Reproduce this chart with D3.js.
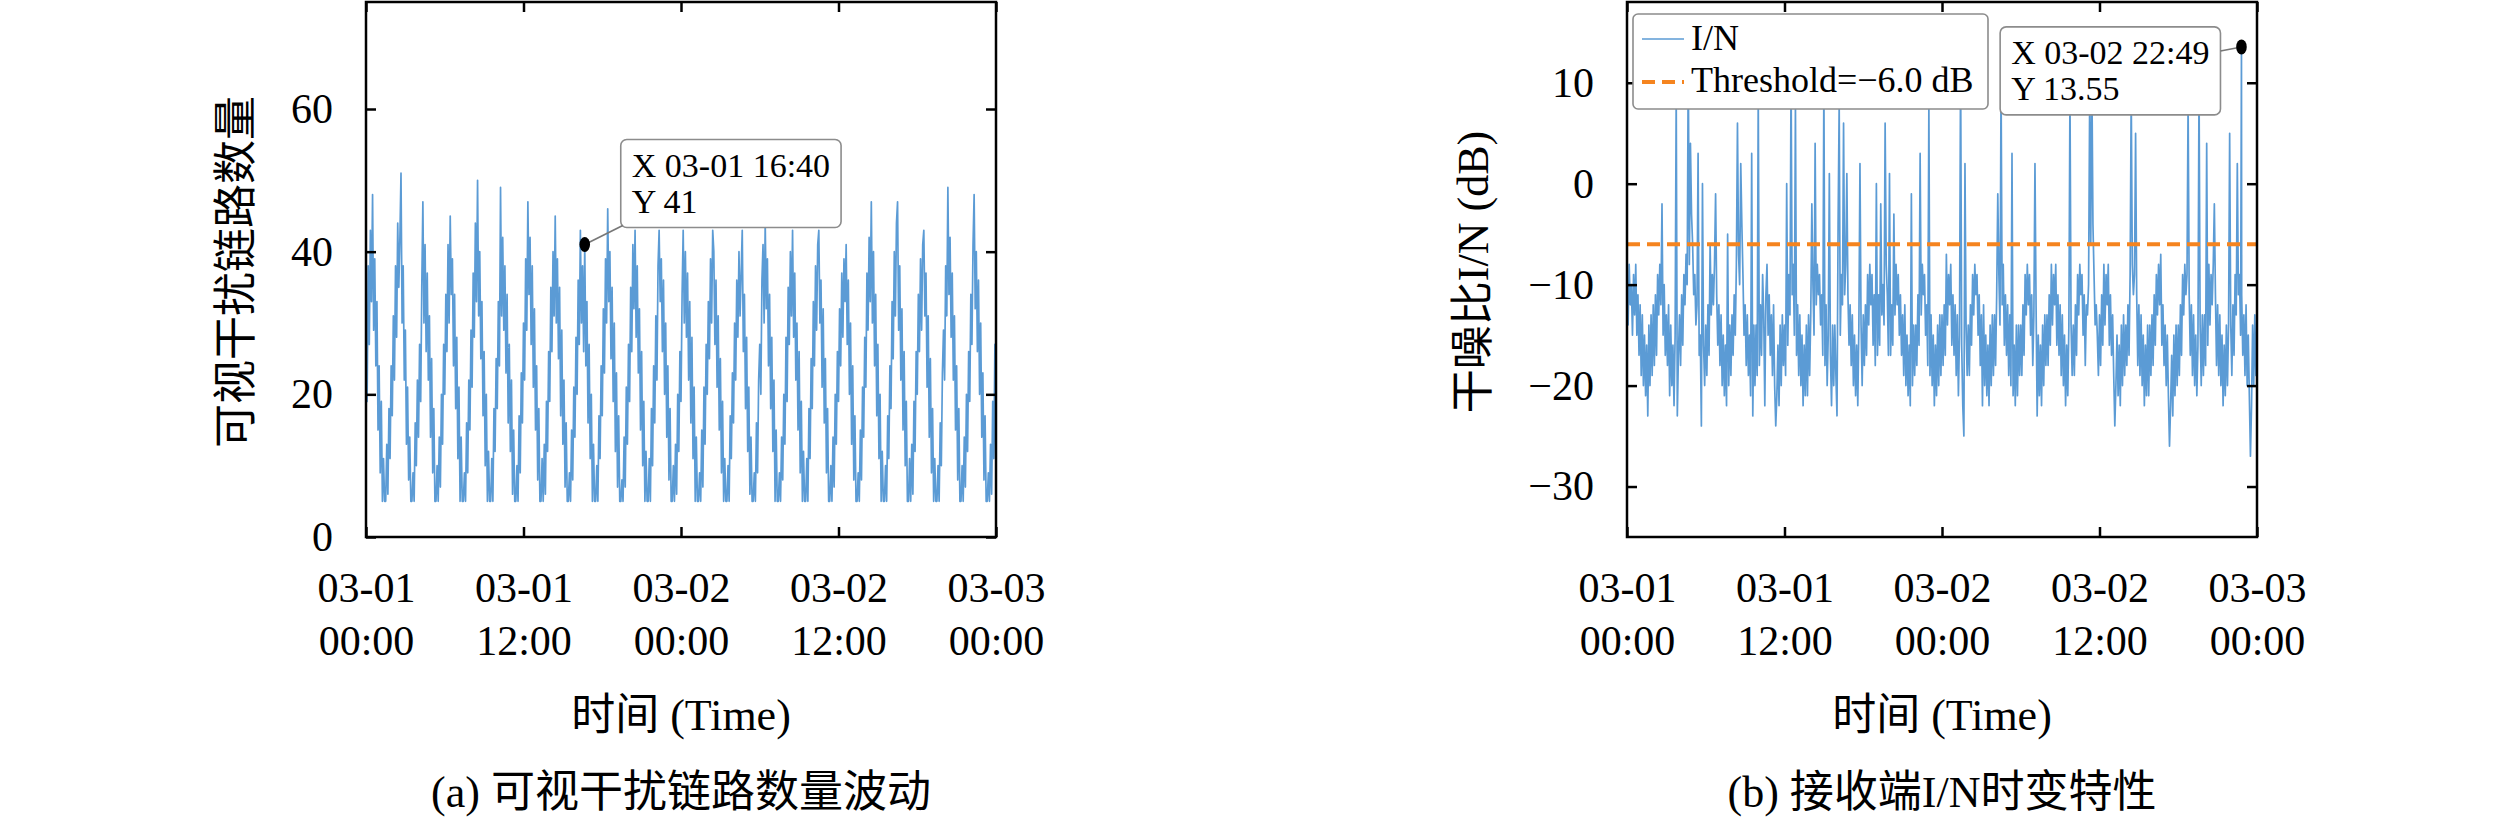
<!DOCTYPE html>
<html>
<head>
<meta charset="utf-8">
<script src="https://cdn.jsdelivr.net/npm/d3@7"></script>
<style>
body { margin: 0; background: #fff; }
</style>
</head>
<body>
<svg width="2520" height="817"></svg>
<script>
// sampling: one value every 5 minutes from 03-01 00:00 to 03-03 00:00
const startTime = '2024-03-01 00:00';
const endTime = '2024-03-03 00:00';
const stepMinutes = 5;
const xTickTimes = ['2024-03-01 00:00', '2024-03-01 12:00', '2024-03-02 00:00', '2024-03-02 12:00', '2024-03-03 00:00'];

// (a) visible interfering links, one row = 2 hours
const linkCounts = [
  30, 19, 38, 27, 43, 33, 48, 29, 39, 24, 33, 15, 24, 9, 19, 5, 11, 5, 5, 13, 6, 18, 11, 24,
  17, 31, 22, 38, 28, 44, 35, 42, 51, 30, 38, 22, 29, 13, 21, 8, 14, 5, 5, 9, 5, 16, 10, 22,
  14, 27, 19, 35, 47, 30, 41, 26, 37, 22, 31, 14, 25, 9, 18, 5, 5, 10, 5, 14, 7, 20, 13, 27,
  20, 34, 26, 41, 30, 45, 34, 39, 24, 34, 18, 28, 11, 21, 5, 14, 5, 5, 9, 5, 16, 9, 22, 15,
  29, 21, 37, 28, 44, 33, 50, 31, 40, 25, 33, 17, 26, 10, 20, 5, 12, 5, 5, 11, 5, 18, 12, 25,
  18, 33, 24, 49, 31, 42, 29, 38, 23, 34, 16, 27, 12, 22, 6, 15, 5, 5, 10, 5, 17, 9, 23, 16,
  30, 22, 39, 29, 47, 34, 42, 27, 38, 21, 32, 15, 24, 8, 18, 5, 5, 11, 5, 13, 6, 19, 12, 26,
  19, 35, 26, 40, 31, 45, 30, 39, 25, 35, 17, 29, 13, 22, 7, 16, 5, 5, 9, 5, 15, 8, 21, 14,
  28, 20, 36, 27, 43, 30, 38, 26, 41, 24, 33, 16, 27, 11, 20, 5, 13, 5, 5, 10, 5, 17, 11, 24,
  17, 32, 23, 39, 30, 46, 33, 40, 25, 35, 19, 30, 12, 23, 7, 17, 5, 5, 8, 5, 14, 7, 21, 13,
  27, 19, 35, 26, 41, 32, 43, 28, 38, 23, 32, 15, 26, 10, 19, 5, 12, 5, 5, 11, 5, 18, 10, 24,
  16, 31, 22, 38, 43, 33, 39, 26, 36, 20, 30, 14, 24, 8, 18, 5, 5, 10, 5, 13, 6, 20, 12, 26,
  19, 34, 43, 30, 40, 28, 37, 22, 33, 16, 28, 11, 21, 5, 14, 5, 5, 9, 5, 15, 7, 21, 13, 27,
  20, 33, 25, 39, 30, 43, 40, 27, 36, 21, 31, 15, 25, 9, 19, 5, 11, 5, 5, 10, 5, 17, 11, 23,
  16, 30, 22, 36, 28, 40, 31, 37, 43, 26, 34, 18, 28, 12, 21, 6, 14, 5, 5, 9, 5, 16, 9, 22,
  27, 20, 36, 41, 30, 44, 32, 39, 24, 34, 18, 28, 12, 22, 5, 15, 5, 5, 9, 5, 14, 8, 20, 13,
  28, 19, 35, 27, 40, 31, 43, 28, 37, 22, 30, 15, 26, 9, 19, 5, 12, 5, 5, 11, 5, 18, 11, 25,
  18, 33, 24, 38, 29, 41, 43, 30, 36, 21, 32, 16, 25, 9, 18, 5, 5, 10, 5, 14, 7, 20, 13, 26,
  19, 32, 24, 37, 28, 39, 33, 41, 27, 36, 20, 30, 13, 24, 8, 17, 5, 5, 9, 5, 15, 8, 21, 14,
  28, 21, 37, 29, 42, 33, 47, 30, 40, 24, 34, 17, 27, 11, 20, 5, 12, 5, 5, 10, 5, 17, 11, 24,
  18, 33, 25, 40, 31, 44, 47, 29, 38, 22, 32, 15, 26, 10, 19, 5, 5, 11, 5, 13, 6, 19, 12, 26,
  20, 34, 26, 39, 29, 41, 43, 31, 37, 21, 31, 14, 25, 9, 18, 5, 11, 5, 5, 10, 5, 16, 10, 23,
  29, 22, 38, 31, 49, 34, 42, 28, 37, 22, 31, 15, 24, 8, 18, 5, 5, 10, 5, 14, 7, 20, 12, 26,
  19, 34, 27, 41, 48, 32, 40, 26, 36, 20, 30, 14, 23, 8, 17, 5, 5, 9, 5, 13, 6, 19, 11, 27,
  8
];

// (b) received I/N in dB, one row = 2 hours
const inRatio = [
  -9, -14, -8, -12, -10, -15, -9, -13, -8, -15, -11, -17, -12, -19, -13, -20, -15, -21, -16, -23, -14, -20, -13, -19,
  -12, -18, -11, -17, -9, -13, -8, -12, -2, -15, -10, -17, -13, -18, -12, -21, -14, -20, -16, -22, -15, 9, -23, -17,
  -13, -18, -11, -16, -9, -12, -7, -10, 12, -8, 4, -3, -6, -11, -9, -14, -12, 3, -17, -15, -24, 0, -16, -20,
  -14, -19, -12, -17, -6, -13, -9, -12, -8, -1, -11, -16, -12, -18, -13, -20, -15, -21, -16, -22, -5, -20, -14, -19,
  -13, -17, -11, -15, -8, 6, -7, -10, 2, -4, -9, -15, -12, -18, -13, -19, -15, -21, 3, -23, -14, -20, -14, -19,
  9, -18, -12, -17, -9, -13, -22, -11, -8, -15, -11, -17, -13, -19, -12, -20, -24, -21, -16, -22, -14, -20, -13, -18,
  -14, -19, 0, -16, -9, -13, 11, -11, -8, -15, 8, -17, -12, -19, -13, -20, -15, -22, -16, -21, -14, -21, -13, -19,
  -13, -2, -10, -15, 4, -12, -8, -11, -9, -14, -11, -17, 10, -18, -12, -20, -15, 1, -17, -22, -14, -20, -14, -19,
  -23, -4, 8, -15, -9, -12, 6, -11, -8, 1, -11, -16, -12, -18, -13, -20, -15, -21, -16, -22, -14, 2, -14, -20,
  -13, -18, -12, -17, -9, -14, -8, -12, -9, -16, -11, -18, 0, -17, -11, -16, -2, -13, -10, -14, 6, -8, -11, -17,
  1, -17, -12, -16, -3, -13, -8, -12, -9, -15, -11, -17, -13, -19, -12, -20, -15, -21, -16, -22, -1, -20, -14, -19,
  -14, -18, -11, -16, 3, -13, -8, -11, -9, -15, -12, -18, 8, -19, -13, -20, -15, -22, -16, -21, -14, -20, -13, -19,
  -13, -18, -12, -17, -7, -14, -9, -12, -8, -16, -11, -17, -12, -19, -13, -21, -15, 12, -16, -22, -25, 2, -14, -19,
  -14, -19, -12, -16, -9, -13, -8, -11, -9, -15, -11, -18, -13, -22, -12, -20, -15, -21, -16, -22, -14, -20, -13, -19,
  -13, -18, -11, -1, -9, -14, 10, -12, -8, -16, -11, -17, -12, -19, -13, -20, 3, -21, -16, -22, -14, -21, -14, -19,
  -14, -19, -12, -17, -9, -13, -8, -12, -9, -15, -11, -18, -13, 2, -12, -23, -15, -21, -16, -22, -14, -20, -13, -18,
  -13, -18, -11, -16, -8, -14, -9, -12, -8, -16, -11, -17, -12, -19, -13, -20, -15, -22, -16, -21, -14, 9, -14, -19,
  -14, -19, -12, -17, -9, -13, -8, -11, -9, -15, -11, -18, -12, -13, -10, 8, -6, 11, -4, -9, -14, -12, -15, -19,
  -13, -18, -11, -16, -8, -14, -9, -12, -8, -16, -11, -17, -13, -19, -24, -20, -15, -21, -16, -22, -14, -20, -13, -19,
  -14, -18, -12, -17, -9, 9, -8, -11, -9, 5, -11, -18, -12, -19, -13, -20, -15, -22, -16, -21, -14, -21, -14, -19,
  -13, -18, -11, -16, -9, -13, -8, -12, -7, -16, -12, -18, -14, -20, -15, -21, -26, -22, -17, -23, -15, -21, -14, -20,
  -14, -19, -12, -17, -9, -13, -8, -11, -9, 8, -11, -17, -12, -19, -13, -20, -15, -21, -16, 10, -14, -20, -13, -19,
  -13, -18, 4, -16, -8, -14, -9, -12, -8, -2, -11, -18, -12, -19, -13, -20, -15, -22, -16, -21, -14, -20, -14, 5,
  -14, -19, -12, -17, -9, -13, 2, -11, -9, -15, -11, -17, -13, -19, -12, -20, -15, -21, -27, -22, -14, -20, -13, -19,
  -15
];

const thresholdDb = -6.0;
const tipA = { time: '2024-03-01 16:40', value: 41 };
const tipB = { time: '2024-03-02 22:49', value: 13.55 };
const yTicksA = [0, 20, 40, 60];
const yTicksB = [-30, -20, -10, 0, 10];
const yTitleA = '可视干扰链路数量';
const yTitleB = '干噪比I/N (dB)';
const xTitle = '时间 (Time)';
const captionA = '(a) 可视干扰链路数量波动';
const captionB = '(b) 接收端I/N时变特性';
const legendLabels = ['I/N', 'Threshold=\u22126.0 dB'];

const parseTime = d3.timeParse('%Y-%m-%d %H:%M');
const fmtDay = d3.timeFormat('%m-%d');
const fmtTime = d3.timeFormat('%H:%M');
const t0 = parseTime(startTime);
const t1 = parseTime(endTime);

const blue = '#5b9bd5';
const orange = '#f5841f';
const font = "'Liberation Serif', 'Noto Sans CJK SC', serif";

const svg = d3.select('svg');
const plotTop = 2, plotBottom = 537;

function toSeries(values) {
  return values.map((v, i) => ({ t: d3.timeMinute.offset(t0, i * stepMinutes), v }));
}

function drawPanel(cfg) {
  const x = d3.scaleTime().domain([t0, t1]).range([cfg.left, cfg.right]);
  const y = d3.scaleLinear().domain(cfg.yDomain).range([plotBottom, plotTop]);
  const g = svg.append('g');

  g.append('clipPath').attr('id', cfg.id + '-clip')
    .append('rect').attr('x', cfg.left).attr('y', plotTop)
    .attr('width', cfg.right - cfg.left).attr('height', plotBottom - plotTop);

  const line = d3.line().x(d => x(d.t)).y(d => y(d.v));
  g.append('path')
    .datum(cfg.series)
    .attr('clip-path', `url(#${cfg.id}-clip)`)
    .attr('fill', 'none')
    .attr('stroke', blue)
    .attr('stroke-width', 1.7)
    .attr('stroke-linejoin', 'round')
    .attr('d', line);

  if (cfg.threshold !== undefined) {
    g.append('line')
      .attr('x1', cfg.left).attr('x2', cfg.right)
      .attr('y1', y(cfg.threshold)).attr('y2', y(cfg.threshold))
      .attr('stroke', orange).attr('stroke-width', 3.8)
      .attr('stroke-dasharray', '13,7');
  }

  const tickTimes = xTickTimes.map(parseTime);
  // bottom axis with two-line labels
  const ax = g.append('g').attr('transform', `translate(0,${plotBottom})`)
    .call(d3.axisBottom(x).tickValues(tickTimes).tickSizeInner(-10).tickSizeOuter(0).tickPadding(35));
  ax.selectAll('text').each(function (d) {
    const t = d3.select(this).text(null);
    t.append('tspan').attr('x', 0).text(fmtDay(d));
    t.append('tspan').attr('x', 0).attr('dy', 53).text(fmtTime(d));
  });
  g.append('g').attr('transform', `translate(0,${plotTop})`)
    .call(d3.axisTop(x).tickValues(tickTimes).tickSizeInner(-10).tickSizeOuter(0).tickFormat(''));
  g.append('g').attr('transform', `translate(${cfg.left},0)`)
    .call(d3.axisLeft(y).tickValues(cfg.yTicks).tickSizeInner(-10).tickSizeOuter(0).tickPadding(33)
      .tickFormat(d3.format('d')));
  g.append('g').attr('transform', `translate(${cfg.right},0)`)
    .call(d3.axisRight(y).tickValues(cfg.yTicks).tickSizeInner(-10).tickSizeOuter(0).tickFormat(''));

  g.selectAll('.domain').remove();
  g.selectAll('.tick line').attr('stroke', '#000').attr('stroke-width', 2.5);
  g.selectAll('.tick text').attr('font-family', font).attr('font-size', 42).attr('fill', '#000');

  g.append('rect')
    .attr('x', cfg.left).attr('y', plotTop)
    .attr('width', cfg.right - cfg.left).attr('height', plotBottom - plotTop)
    .attr('fill', 'none').attr('stroke', '#000').attr('stroke-width', 2.5);

  const cx = (cfg.left + cfg.right) / 2;
  g.append('text')
    .attr('transform', `translate(${cfg.yTitleX},272) rotate(-90)`)
    .attr('text-anchor', 'middle').attr('dominant-baseline', 'central')
    .attr('font-family', font).attr('font-size', 44)
    .text(cfg.yTitle);
  g.append('text')
    .attr('x', cx).attr('y', 715)
    .attr('text-anchor', 'middle').attr('dominant-baseline', 'central')
    .attr('font-family', font).attr('font-size', 44)
    .text(xTitle);
  g.append('text')
    .attr('x', cx).attr('y', 792)
    .attr('text-anchor', 'middle').attr('dominant-baseline', 'central')
    .attr('font-family', font).attr('font-size', 44)
    .text(cfg.caption);

  return { g, x, y };
}

function drawTip(g, x, y, tip, side) {
  const mx = x(parseTime(tip.time));
  const my = y(tip.value);
  const lines = ['X ' + d3.timeFormat('%m-%d %H:%M')(parseTime(tip.time)), 'Y ' + tip.value];
  const tg = g.append('g');
  const texts = lines.map(s => tg.append('text')
    .attr('font-family', font).attr('font-size', 34).attr('fill', '#000').text(s));
  const w = d3.max(texts, t => t.node().getComputedTextLength()) + 22;
  const h = 88;
  let bx, by, lx, ly;
  if (side === 'right') {
    bx = mx + 36; by = my - 17 - h; lx = bx + 2; ly = by + h - 2;
  } else {
    bx = mx - 21 - w; by = my - 20; lx = bx + w; ly = by + 24;
  }
  tg.insert('rect', 'text')
    .attr('x', bx).attr('y', by).attr('width', w).attr('height', h).attr('rx', 6)
    .attr('fill', '#fff').attr('stroke', '#8c8c8c').attr('stroke-width', 1.6);
  texts.forEach((t, i) => t.attr('x', bx + 11).attr('y', by + 37 + i * 36));
  g.append('line').attr('x1', lx).attr('y1', ly).attr('x2', mx).attr('y2', my)
    .attr('stroke', '#777').attr('stroke-width', 1.6);
  g.append('ellipse').attr('cx', mx).attr('cy', my).attr('rx', 5.3).attr('ry', 7.5).attr('fill', '#000');
}

// panel (a)
const pA = drawPanel({
  id: 'a', left: 366, right: 996, yDomain: [0, 75], yTicks: yTicksA,
  series: toSeries(linkCounts), yTitle: yTitleA, yTitleX: 236, caption: captionA
});
drawTip(pA.g, pA.x, pA.y, tipA, 'right');

// panel (b): the marked peak sample sits between the 5-minute samples
const seriesB = toSeries(inRatio)
  .concat([{ t: parseTime(tipB.time), v: tipB.value }])
  .sort((a, b) => a.t - b.t);
const pB = drawPanel({
  id: 'b', left: 1627, right: 2257, yDomain: [-35, 18], yTicks: yTicksB,
  series: seriesB, threshold: thresholdDb, yTitle: yTitleB, yTitleX: 1473, caption: captionB
});

// legend
const lg = pB.g.append('g');
lg.append('rect').attr('x', 1633).attr('y', 14).attr('width', 355).attr('height', 95).attr('rx', 5)
  .attr('fill', '#fff').attr('stroke', '#8c8c8c').attr('stroke-width', 1.6);
lg.append('line').attr('x1', 1642).attr('x2', 1684).attr('y1', 39).attr('y2', 39)
  .attr('stroke', blue).attr('stroke-width', 1.7);
lg.append('line').attr('x1', 1642).attr('x2', 1684).attr('y1', 82).attr('y2', 82)
  .attr('stroke', orange).attr('stroke-width', 3.8).attr('stroke-dasharray', '13,7');
legendLabels.forEach((s, i) => lg.append('text')
  .attr('x', 1691).attr('y', 50 + i * 42)
  .attr('font-family', font).attr('font-size', 36).text(s));

drawTip(pB.g, pB.x, pB.y, tipB, 'left');
</script>
</body>
</html>
